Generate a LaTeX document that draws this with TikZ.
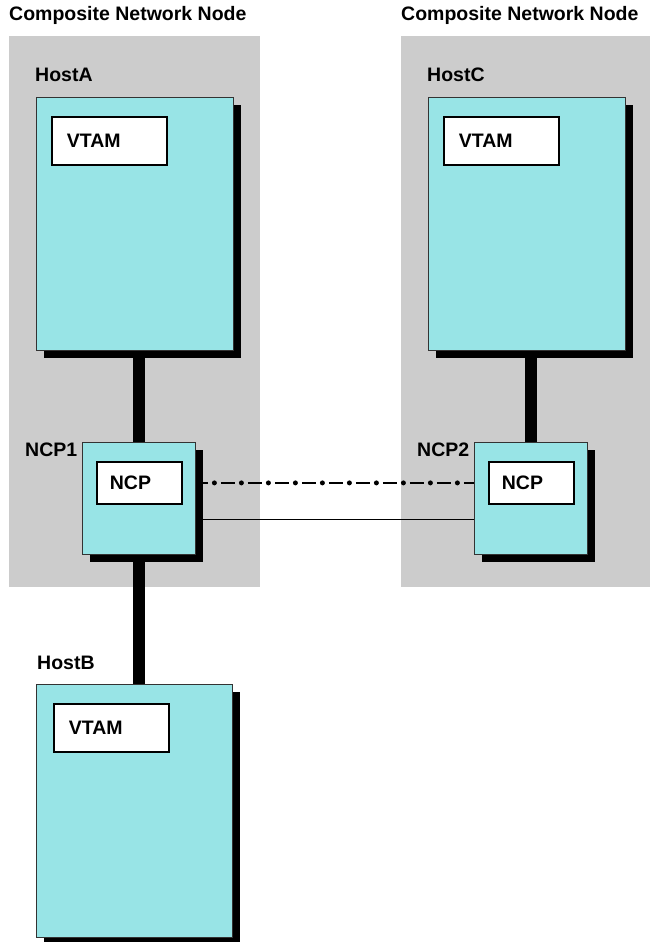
\documentclass[tikz,border=0pt]{standalone}
\usepackage{fontspec}
\setmainfont{Liberation Sans}
\usepackage{xcolor}
\usetikzlibrary{positioning,shadows}
\definecolor{hostcyan}{RGB}{152,228,230}
\definecolor{panelgray}{RGB}{204,204,204}

\begin{document}
\begin{tikzpicture}[x=1pt,y=-1pt,
  every node/.style={font=\fontsize{19.5}{22}\selectfont\bfseries},
  lbl/.style={anchor=west, inner sep=0pt},
  box/.style={draw=black!80, line width=1.4pt, fill=hostcyan, anchor=north west,
    inner sep=0pt, drop shadow={shadow xshift=7pt, shadow yshift=-7pt, fill=black, opacity=1}},
  vtam/.style={draw=black, line width=1.8pt, fill=white, align=left,
    inner xsep=15pt, inner ysep=0pt, text width=85pt, minimum height=48pt},
  ncp/.style={draw=black, line width=1.8pt, fill=white, align=left,
    inner xsep=13pt, inner ysep=0pt, text width=59pt, minimum height=42pt},
  trunk/.style={line width=11.5pt, black}]
  \useasboundingbox (0,0) rectangle (650,942);

  % the two composite network nodes
  \fill[panelgray] (9,36) rectangle (260,587);
  \fill[panelgray] (401,36) rectangle (650,587);
  \node[lbl] (titleL) at (9,15) {Composite Network Node};
  \node[lbl] (titleR) at (401,15) {Composite Network Node};

  % hosts
  \node[lbl] (labA) at (35,75) {HostA};
  \node[box, minimum width=197pt, minimum height=253pt] (hostA) at (36,97) {};
  \node[vtam, below right=19pt and 15pt of hostA.north west] (vtamA) {VTAM};

  \node[lbl] (labC) at (427,75) {HostC};
  \node[box, minimum width=197pt, minimum height=253pt] (hostC) at (428,97) {};
  \node[vtam, below right=19pt and 15pt of hostC.north west] (vtamC) {VTAM};

  \node[lbl] (labB) at (37,663) {HostB};
  \node[box, minimum width=196pt, minimum height=253pt] (hostB) at (36,684) {};
  \node[vtam, below right=19pt and 17pt of hostB.north west] (vtamB) {VTAM};

  % communication controllers
  \node[lbl] (labN1) at (25,450) {NCP1};
  \node[box, minimum width=113pt, minimum height=112pt] (ncpA) at (82,442) {};
  \node[ncp, below right=19pt and 14pt of ncpA.north west] (ncpa) {NCP};

  \node[lbl] (labN2) at (417,450) {NCP2};
  \node[box, minimum width=113pt, minimum height=112pt] (ncpB) at (474,442) {};
  \node[ncp, below right=19pt and 14pt of ncpB.north west] (ncpb) {NCP};

  % channel links
  \draw[trunk] (ncpA.north) -- (ncpA.north |- hostA.south);
  \draw[trunk] (ncpB.north) -- (ncpB.north |- hostC.south);
  \draw[trunk] (ncpA.south) -- (ncpA.south |- hostB.north);

  % NCP to NCP
  \draw[line width=2pt, dash pattern=on 14pt off 13pt, dash phase=2.5pt]
    (ncpA.east |- ncpa) -- (ncpB.west |- ncpb);
  \draw[line width=5pt, line cap=round, dash pattern=on 0pt off 27pt, dash phase=9pt]
    (ncpA.east |- ncpa) -- (ncpB.west |- ncpb);
  \draw[line width=1.4pt] ([yshift=-21pt]ncpA.east) -- ([yshift=-21pt]ncpB.west);
\end{tikzpicture}
\end{document}
